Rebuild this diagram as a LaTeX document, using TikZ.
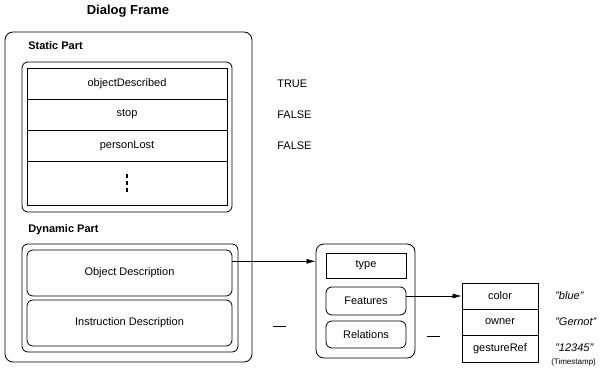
\documentclass[tikz,border=0pt]{standalone}
\usepackage{fontspec}
\setmainfont{Liberation Sans}
\usetikzlibrary{arrows.meta, calc, positioning}

\tikzset{
  box/.style={draw, rectangle, line width=0.8pt, inner sep=0pt},
  rbox/.style={box, rounded corners=6pt},
  label/.style={inner sep=0pt, font=\fontsize{11}{13}\selectfont\bfseries},
  value/.style={inner sep=0pt, anchor=west, font=\fontsize{11}{13}\selectfont},
}

\begin{document}
\begin{tikzpicture}[x=1pt,y=-1pt,>={Latex[length=9pt,width=5pt]},semithick,font=\fontsize{11}{13}\selectfont]
	\useasboundingbox (0,0) rectangle (606,372);

	\node[label, font=\fontsize{13}{15}\selectfont\bfseries] (title) at (128,11) {Dialog Frame};
	\node[rbox, rounded corners=8pt, minimum width=247pt, minimum height=330pt] (dialog) at (128.5,197) {};

	% static part
	\node[label, anchor=west] (static) at (28,46) {Static Part};
	\node[rbox, minimum width=210pt, minimum height=150pt] (stat) at (127,137) {};
	\node[box, minimum width=200pt, minimum height=31pt] (objdescr) at (127,83.5) {objectDescribed};
	\node[box, minimum width=200pt, minimum height=31pt] (stop) at (127,114.5) {stop};
	\node[box, minimum width=200pt, minimum height=31pt] (lost) at (127,145.5) {personLost};
	\node[box, minimum width=200pt, minimum height=44pt] (more) at (127,183) {};
	\draw[line width=1.6pt, dash pattern=on 4pt off 3pt] ($(more.center)+(0,-9)$) -- ($(more.center)+(0,9)$);
	\node[value] (vtrue) at (277,83.5) {TRUE};
	\node[value] (vstop) at (277,114.5) {FALSE};
	\node[value] (vlost) at (277,145.5) {FALSE};

	% dynamic part
	\node[label, anchor=west] (dynamic) at (28,230) {Dynamic Part};
	\node[rbox, minimum width=216pt, minimum height=108pt] (dyn) at (130,298) {};
	\node[rbox, minimum width=205pt, minimum height=46pt] (objdesc) at (129.5,273) {Object Description};
	\node[rbox, minimum width=205pt, minimum height=46pt] (instdesc) at (129.5,323) {Instruction Description};

	% object description
	\node[rbox, rounded corners=8pt, minimum width=99pt, minimum height=114pt] (object) at (365.5,301) {};
	\node[box, minimum width=80pt, minimum height=25pt] (type) at (366,265.5) {type};
	\node[rbox, minimum width=80pt, minimum height=28pt] (features) at (366,301) {Features};
	\node[rbox, minimum width=80pt, minimum height=27pt] (relations) at (366,334.5) {Relations};

	% features
	\node[box, minimum width=76pt, minimum height=26pt] (color) at (500,296) {color};
	\node[box, minimum width=76pt, minimum height=26pt] (owner) at (500,322) {owner};
	\node[box, minimum width=76pt, minimum height=27pt] (gesture) at (500,348.5) {gestureRef};
	\node[value] (vcolor) at (555,296) {\itshape "blue"};
	\node[value] (vowner) at (555,322) {\itshape "Gernot"};
	\node[value] (vgesture) at (555,348) {\itshape "12345"};
	\node[value, font=\fontsize{8}{9}\selectfont] (stamp) at (551,362.5) {(Timestamp)};

	\coordinate (od) at ($(objdesc.north east)!0.25!(objdesc.south east)$);
	\draw[->] (od) -- (od -| object.west);
	\draw[->] (color.west -| features.east) -- (color.west);

	\coordinate (d1) at (273,326);
	\coordinate (d2) at (286,326);
	\coordinate (d3) at (427,336);
	\coordinate (d4) at (440,336);
	\draw (d1) -- (d2);
	\draw (d3) -- (d4);
\end{tikzpicture}
\end{document}
